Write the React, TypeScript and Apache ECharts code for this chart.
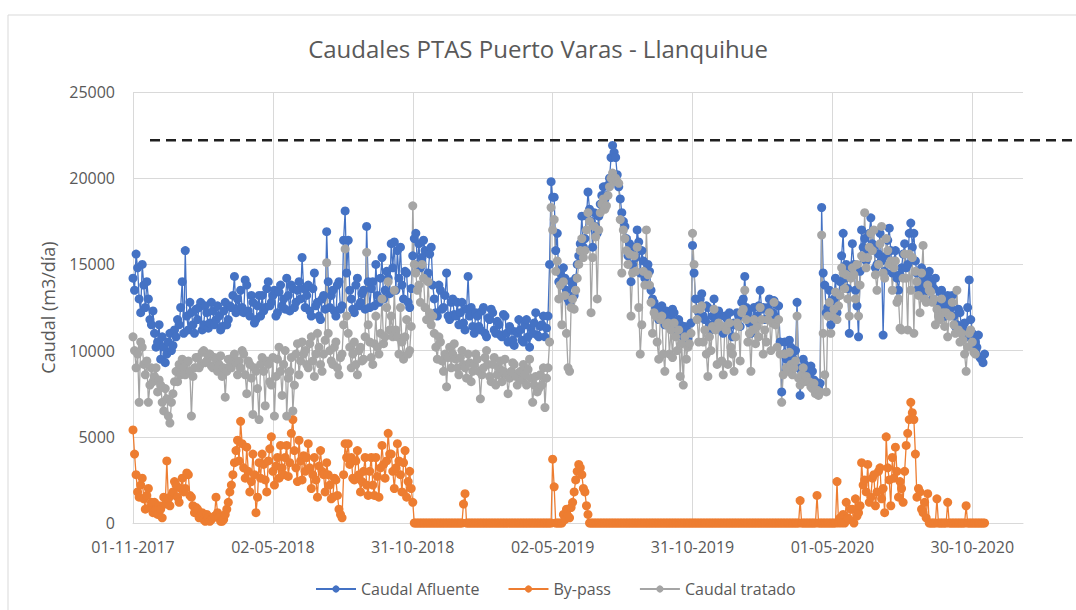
import React, { useEffect, useRef } from "react";
import * as echarts from "echarts";

// Sampling: one value every STEP_DAYS days starting 01-11-2017 (day 0)
const STEP_DAYS = 2;
const TICK_DAYS = 182;
const AXIS_MAX_DAYS = 1158;
const tickLabels = ["01-11-2017", "02-05-2018", "31-10-2018", "02-05-2019", "31-10-2019", "01-05-2020", "30-10-2020"];
const limitValue = 22200;
const seriesNames = ["Caudal Afluente", "By-pass", "Caudal tratado"];

const afluente = [
  14200, 13500, 15600, 14800, 13000, 12200, 15000, 13800, 12500, 14000, 13000, 11800, 11500, 12300,
  11000, 10200, 10500, 11500, 9500, 10800, 10200, 9300, 9800, 10500, 11000, 10000, 10300, 11200,
  10800, 11800, 11500, 12500, 14000, 11000, 15800, 12000, 11200, 12800, 12200, 11500, 11000, 12400,
  11800, 12500, 12800, 11200, 11500, 12600, 12200, 11300, 11600, 12800, 12300, 11500, 11800, 12600,
  12000, 11200, 11400, 12300, 12800, 11500, 11800, 12600, 12500, 13200, 14300, 12200, 13000, 12400,
  13500, 12500, 12200, 14100, 13800, 12300, 12000, 13200, 12800, 11600, 11800, 12600, 13200, 12000,
  13200, 12300, 12500, 13600, 14000, 12600, 12800, 13200, 13500, 12000, 12200, 13400, 13800, 12600,
  13000, 12400, 14200, 13200, 12300, 13800, 13600, 12500, 12800, 13500, 14000, 13000, 15400, 13600,
  12500, 13200, 13800, 12300, 12000, 13600, 14500, 12600, 12800, 12000, 11800, 13000, 13200, 12400,
  16900, 14000, 12500, 13200, 13500, 12300, 12000, 13800, 14000, 12400, 12600, 16400, 18100, 14500,
  16400, 13500, 13000, 12400, 12200, 13800, 14200, 12600, 12800, 13300, 13500, 12400, 17200, 14000,
  12500, 13600, 14000, 12600, 15000, 13200, 12800, 14200, 15400, 13000, 13500, 14600, 14200, 13300,
  16200, 14800, 16300, 13500, 15800, 14200, 16000, 13800, 13000, 14600, 14500, 12800, 12500, 13600,
  15500, 16500, 16800, 15000, 16200, 14800, 15400, 16400, 15800, 14200, 14500, 15600, 16000, 13800,
  13000, 12200, 12000, 13800, 13500, 12400, 12500, 13200, 14500, 12000, 11800, 12800, 13000, 12100,
  12000, 12800, 11500, 12200, 12800, 11600, 11200, 12400, 14300, 12000, 12500, 11400, 11000, 12200,
  12000, 11400, 11200, 12300, 12500, 11000, 10800, 11900, 11800, 12400, 12200, 11200, 11000, 11700,
  11500, 10900, 10800, 12100, 12000, 11000, 10500, 11400, 11200, 10600, 10300, 11100, 11000, 11800,
  11200, 10600, 10500, 11500, 11800, 10800, 10200, 11300, 11000, 11600, 12200, 10900, 10800, 11400,
  11500, 12000, 10800, 11300, 12000, 15000, 19800, 18900, 18900, 15800, 16800, 14000, 14500, 13800,
  14800, 14200, 13500, 13000, 12800, 14000, 13800, 13200, 14200, 15000, 15500, 16200, 17800, 16000,
  16500, 17800, 19200, 18200, 17500, 16000, 18000, 17200, 16800, 17800, 18500, 19000, 19500, 18800,
  19000, 19600, 20000, 21200, 21900, 21500, 21200, 20200, 19500, 18800, 18000, 17500, 17200, 16500,
  15500, 16200, 14000, 15000, 16000, 15400, 17000, 16300, 14500, 15800, 15200, 14200, 14600, 15000,
  14600, 13500, 13000, 12800, 12500, 12000, 11800, 12400, 12600, 11900, 11500, 12300, 12200, 11700,
  11800, 12400, 12200, 11500, 11000, 11800, 11500, 10900, 10800, 11400, 11200, 10700, 11000, 11600,
  16100, 14500, 13000, 12400, 12200, 13000, 13300, 12000, 11800, 12600, 12500, 11500, 11200, 12000,
  13000, 11800, 11500, 12300, 12000, 11200, 11000, 12000, 11900, 11400, 12200, 11500, 10800, 11600,
  11500, 12200, 12000, 11400, 12800, 13000, 14300, 12500, 12200, 11600, 11000, 11800, 12500, 11800,
  12000, 12600, 13500, 12400, 12500, 11800, 11800, 12500, 13000, 12000, 12200, 12900, 12700, 11800,
  12600, 10500, 7600, 9800, 10500, 9500, 9800, 10600, 10200, 9600, 9400, 10000, 12800, 9000,
  7400, 8800, 9500, 9200, 9000, 8400, 8600, 9100, 8800, 8300, 8200, 7900, 7800, 8100,
  18300, 14500, 13800, 12200, 12500, 13500, 11500, 12800, 13000, 14200, 12200, 13200, 14000, 15500,
  16800, 14200, 15000, 13600, 11000, 14800, 16200, 15000, 13500, 12600, 10800, 14600, 17000, 16000,
  16500, 15200, 15800, 16800, 17700, 16200, 16000, 14800, 15000, 15600, 16800, 15200, 10900, 14600,
  15500, 16400, 17100, 15800, 14500, 15200, 15800, 14200, 13500, 14400, 14800, 15600, 16200, 14800,
  15000, 16800, 17400, 16000, 16800, 15200, 14500, 13600, 13800, 14800, 14200, 13400, 13500, 14400,
  14600, 14000, 13000, 13600, 14200, 12800, 12500, 13400, 13500, 12600, 12000, 12800, 13200, 12400,
  12500, 13200, 12000, 11400, 11500, 12400, 12200, 11300, 11000, 11600, 10800, 12500, 14100, 11800,
  11000, 10600, 10500, 10200, 10900, 9600, 9500, 9300, 9800,
];

const bypass = [
  5400, 4000, 2800, 1800, 1500, 2200, 2600, 1400, 800, 1600, 2000, 900, 1200, 600,
  1200, 800, 500, 1000, 800, 300, 1500, 1100, 3600, 1400, 1000, 1600, 1800, 2400,
  2200, 1500, 1200, 2000, 2600, 1800, 2000, 2900, 2800, 1600, 1500, 1000, 600, 900,
  800, 300, 400, 600, 200, 100, 500, 300, 100, 200, 300, 400, 1500, 600,
  300, 100, 100, 200, 500, 800, 1200, 1800, 2200, 2800, 3500, 4200, 4800, 3600,
  5900, 4600, 3200, 2600, 4400, 3000, 1800, 2400, 4000, 2800, 600, 1500, 3500, 2600,
  4000, 3400, 2500, 1800, 3600, 4300, 5000, 3000, 2200, 3300, 3800, 2600, 4500, 3200,
  2800, 3800, 4500, 2700, 3500, 5200, 6000, 4200, 3200, 2400, 4800, 3600, 2500, 3900,
  3000, 3800, 4600, 3200, 2000, 2800, 3800, 2500, 1500, 3300, 4200, 3000, 2800, 1800,
  3500, 2800, 2200, 1400, 1500, 2600, 2500, 1600, 800, 500, 300, 2800, 4600, 3800,
  4600, 3400, 3800, 2600, 2500, 3600, 4200, 2800, 1800, 2400, 3000, 3800, 2200, 1600,
  3000, 3800, 2200, 1600, 3800, 2700, 1500, 3200, 4500, 3400, 2600, 3600, 5200, 4000,
  4000, 3000, 2000, 3200, 4600, 3600, 2800, 1800, 3500, 4200, 1500, 2400, 3000, 2000,
  1200, 0, 0, 0, 0, 0, 0, 0, 0, 0, 0, 0, 0, 0,
  0, 0, 0, 0, 0, 0, 0, 0, 0, 0, 0, 0, 0, 0,
  0, 0, 0, 0, 0, 1100, 1700, 0, 0, 0, 0, 0, 0, 0,
  0, 0, 0, 0, 0, 0, 0, 0, 0, 0, 0, 0, 0, 0,
  0, 0, 0, 0, 0, 0, 0, 0, 0, 0, 0, 0, 0, 0,
  0, 0, 0, 0, 0, 0, 0, 0, 0, 0, 0, 0, 0, 0,
  0, 0, 0, 0, 0, 0, 0, 3700, 2100, 0, 0, 0, 0, 0,
  500, 200, 800, 400, 300, 900, 1200, 1800, 2500, 3000, 3400, 3200, 2800, 2000,
  1800, 1000, 500, 0, 0, 0, 0, 0, 0, 0, 0, 0, 0, 0,
  0, 0, 0, 0, 0, 0, 0, 0, 0, 0, 0, 0, 0, 0,
  0, 0, 0, 0, 0, 0, 0, 0, 0, 0, 0, 0, 0, 0,
  0, 0, 0, 0, 0, 0, 0, 0, 0, 0, 0, 0, 0, 0,
  0, 0, 0, 0, 0, 0, 0, 0, 0, 0, 0, 0, 0, 0,
  0, 0, 0, 0, 0, 0, 0, 0, 0, 0, 0, 0, 0, 0,
  0, 0, 0, 0, 0, 0, 0, 0, 0, 0, 0, 0, 0, 0,
  0, 0, 0, 0, 0, 0, 0, 0, 0, 0, 0, 0, 0, 0,
  0, 0, 0, 0, 0, 0, 0, 0, 0, 0, 0, 0, 0, 0,
  0, 0, 0, 0, 0, 0, 0, 0, 0, 0, 0, 0, 0, 0,
  1300, 0, 0, 0, 0, 0, 0, 0, 0, 0, 0, 1600, 0, 0,
  0, 0, 0, 0, 0, 0, 0, 0, 0, 0, 2400, 0, 300, 0,
  500, 0, 1200, 300, 200, 800, 800, 0, 1400, 400, 600, 1000, 3500, 2200,
  2500, 1800, 3400, 1200, 1500, 2600, 2800, 1000, 1800, 3000, 3200, 1400, 2000, 600,
  5000, 3200, 2500, 1000, 3800, 2600, 4400, 3000, 1500, 2400, 2000, 1200, 3000, 4500,
  5200, 6000, 7000, 6400, 6000, 4000, 1500, 2000, 1800, 800, 600, 1200, 300, 1700,
  0, 0, 0, 0, 0, 1400, 0, 0, 0, 0, 0, 0, 1200, 0,
  0, 0, 0, 0, 0, 0, 0, 0, 0, 0, 1000, 0, 0, 0,
  0, 0, 0, 0, 0, 0, 0, 0, 0,
];

const tratado = [
  10800, 10000, 9000, 9800, 7000, 10500, 10200, 9200, 8600, 9400, 7000, 8000, 9000, 8200,
  8500, 9000, 7600, 8300, 8000, 7000, 6500, 7800, 7200, 6200, 5800, 7000, 7500, 8200,
  8800, 8200, 9200, 8600, 9500, 9000, 8600, 9300, 9400, 8800, 6200, 8500, 9000, 9600,
  9600, 9000, 9200, 9900, 10000, 9300, 9400, 9800, 9800, 9100, 9000, 9600, 9500, 8800,
  9200, 9700, 8500, 9000, 7300, 8800, 9500, 9100, 9000, 9600, 9800, 9300, 8600, 9400,
  9000, 10000, 9800, 8600, 7500, 9400, 9200, 8400, 6300, 9000, 8800, 7800, 6000, 9200,
  9600, 8800, 6800, 9400, 9200, 8200, 8000, 9600, 6200, 8500, 9500, 10200, 8800, 7400,
  9200, 10000, 6200, 8400, 8800, 9600, 6500, 8000, 9800, 10400, 8600, 9400, 10500, 9800,
  10000, 9200, 9000, 10400, 10800, 9400, 8500, 9800, 11000, 10200, 9200, 8800, 9800, 10600,
  15100, 11000, 10000, 9400, 9200, 10200, 10500, 9000, 8600, 9600, 9800, 11500, 15900, 12000,
  11000, 10200, 9000, 9800, 10500, 9200, 8600, 10000, 10200, 9400, 9500, 10800, 15700, 11500,
  10500, 9600, 9200, 10400, 12000, 10200, 9800, 11000, 13000, 10400, 10800, 12500, 14000, 11200,
  12000, 10800, 13500, 11200, 10800, 9800, 12500, 10500, 9500, 10800, 11800, 9800, 10000, 11400,
  18400, 15000, 14500, 13500, 13800, 12800, 15000, 14200, 12500, 11800, 14000, 12200, 11500, 12000,
  11000, 10200, 9500, 10800, 10500, 9400, 8800, 9800, 7900, 9600, 10200, 9000, 9800, 10400,
  9500, 9000, 8600, 9600, 10000, 9200, 9000, 8400, 9800, 9300, 8200, 8800, 9200, 9800,
  9500, 8800, 7200, 8600, 9000, 9600, 10000, 9200, 8500, 8200, 9200, 9600, 8000, 8600,
  9000, 9400, 8200, 8800, 9500, 8600, 7500, 8400, 8800, 9300, 9200, 8500, 8000, 8700,
  8800, 8300, 9200, 8600, 8000, 8900, 9500, 8400, 7000, 8000, 8500, 7600, 7800, 8600,
  8000, 9000, 6700, 8400, 9000, 10500, 18300, 17000, 17600, 14600, 15200, 13000, 13800, 11500,
  14000, 13200, 11000, 9000, 8800, 12500, 13000, 12400, 13500, 14200, 15000, 15800, 16500, 15400,
  15800, 17000, 18000, 17500, 12200, 15400, 17200, 16600, 13000, 17000, 18000, 18500, 18800, 18200,
  18400, 19000, 19500, 20000, 20300, 19800, 20000, 19800, 19700, 17600, 14500, 17000, 16500, 15800,
  15000, 15600, 12000, 14500, 15500, 14600, 16000, 12500, 9800, 11500, 14600, 13800, 17000, 14400,
  13800, 12800, 11000, 12200, 12000, 10500, 9500, 11800, 12000, 9800, 8800, 11500, 11600, 9800,
  11200, 9600, 11600, 10800, 10000, 11200, 8500, 10400, 8000, 10800, 9500, 10200, 10400, 11000,
  16800, 15000, 12400, 11800, 10500, 12400, 12600, 10500, 11200, 9800, 8500, 10800, 10000, 11400,
  12400, 11200, 9200, 11600, 11400, 9400, 8600, 11400, 11200, 9200, 11600, 10200, 9800, 8800,
  10800, 11600, 11400, 9400, 12200, 12400, 13500, 11800, 10500, 11000, 8800, 11200, 11800, 10400,
  11400, 10800, 12500, 11800, 9800, 11200, 10500, 11800, 12200, 10000, 11600, 12800, 11500, 10200,
  11800, 9800, 7000, 8600, 9800, 9000, 8800, 9900, 9200, 8600, 9000, 9400, 12000, 8400,
  8000, 8600, 9000, 8200, 8500, 8200, 8200, 7900, 7800, 8100, 7500, 7700, 7400, 7600,
  16700, 11000, 8600, 7600, 12000, 12800, 11000, 12000, 12400, 13400, 11800, 12600, 13200, 14800,
  14500, 13600, 14400, 13000, 12000, 14200, 14800, 14400, 13000, 15000, 12000, 13800, 15500, 15400,
  18000, 14800, 15400, 16000, 16800, 15800, 17000, 14400, 13500, 15000, 16200, 17200, 14500, 14200,
  16500, 15800, 15000, 15200, 13500, 14800, 15200, 12800, 13000, 11300, 11200, 14200, 15600, 14200,
  11200, 15600, 13500, 15400, 11000, 14600, 14000, 13200, 12200, 14500, 16100, 13000, 12800, 13800,
  13500, 13400, 12800, 13000, 11500, 12400, 12000, 11800, 13000, 12200, 11400, 12200, 10800, 12000,
  12000, 12800, 11500, 11000, 13500, 11200, 10500, 11000, 10600, 9800, 8800, 10200, 11000, 11200,
  10500, 9900, 9800,
];

const colors = ["#4472C4", "#ED7D31", "#A5A5A5"];
const toPairs = (vals: number[]) => vals.map((v, i) => [i * STEP_DAYS, v]);

export default function App() {
  const ref = useRef<HTMLDivElement>(null);

  useEffect(() => {
    if (!ref.current) return;
    const chart = echarts.init(ref.current, undefined, { renderer: "svg" });
    const font = "'Open Sans', sans-serif";
    const textColor = "#595959";
    const gridColor = "#d9d9d9";

    const mkSeries = (name: string, vals: number[], color: string) => ({
      name,
      type: "line",
      data: toPairs(vals),
      symbol: "circle",
      symbolSize: 9,
      showSymbol: true,
      lineStyle: { color, width: 1.3 },
      itemStyle: { color },
      emphasis: { disabled: true },
    });

    chart.setOption({
      animation: false,
      textStyle: { fontFamily: font },
      title: {
        text: "Caudales PTAS Puerto Varas - Llanquihue",
        left: "center",
        top: 31,
        textStyle: { fontFamily: font, fontSize: 24, fontWeight: "normal", color: textColor },
      },
      legend: {
        data: seriesNames,
        left: 310,
        top: 576,
        itemWidth: 40,
        itemHeight: 9,
        itemGap: 28,
        textStyle: { fontFamily: font, fontSize: 16, color: textColor },
      },
      grid: { left: 133, right: 53, top: 92, bottom: 87, containLabel: false },
      xAxis: {
        type: "value",
        min: 0,
        max: AXIS_MAX_DAYS,
        interval: TICK_DAYS,
        axisLine: { show: true, lineStyle: { color: gridColor, width: 1 } },
        axisTick: { show: false },
        axisLabel: {
          color: textColor,
          fontSize: 16,
          fontFamily: font,
          margin: 16,
          showMaxLabel: false,
          formatter: (v: number) => {
            const i = v / TICK_DAYS;
            return Number.isInteger(i) && i < tickLabels.length ? tickLabels[i] : "";
          },
        },
        splitLine: { show: true, showMaxLine: false, lineStyle: { color: gridColor, width: 1 } },
      },
      yAxis: {
        type: "value",
        min: 0,
        max: 25000,
        interval: 5000,
        name: "Caudal (m3/día)",
        nameLocation: "middle",
        nameGap: 76,
        nameTextStyle: { fontFamily: font, fontSize: 18, color: textColor },
        axisLine: { show: false },
        axisTick: { show: false },
        axisLabel: {
          color: textColor,
          fontSize: 16,
          fontFamily: font,
          margin: 18,
          formatter: (v: number) => String(v),
        },
        splitLine: { show: true, lineStyle: { color: gridColor, width: 1 } },
      },
      series: [
        mkSeries(seriesNames[0], afluente, colors[0]),
        mkSeries(seriesNames[1], bypass, colors[1]),
        mkSeries(seriesNames[2], tratado, colors[2]),
      ],
    });

    const yLimit = chart.convertToPixel({ yAxisIndex: 0 }, limitValue) as number;
    chart.setOption({
      graphic: [
        {
          type: "rect",
          silent: true,
          z: -10,
          shape: { x: 8, y: 15, width: 1200, height: 800 },
          style: { fill: "none", stroke: "#d9d9d9", lineWidth: 1 },
        },
        {
          type: "line",
          silent: true,
          z: 100,
          shape: { x1: 150, y1: yLimit, x2: 1076, y2: yLimit },
          style: { stroke: "#1f1f1f", lineWidth: 2.5, lineDash: [10, 6] },
        },
      ],
    });

    return () => chart.dispose();
  }, []);

  return (
    <div
      ref={ref}
      style={{ position: "absolute", left: 0, top: 0, width: 1076, height: 610, background: "#fff" }}
    />
  );
}
